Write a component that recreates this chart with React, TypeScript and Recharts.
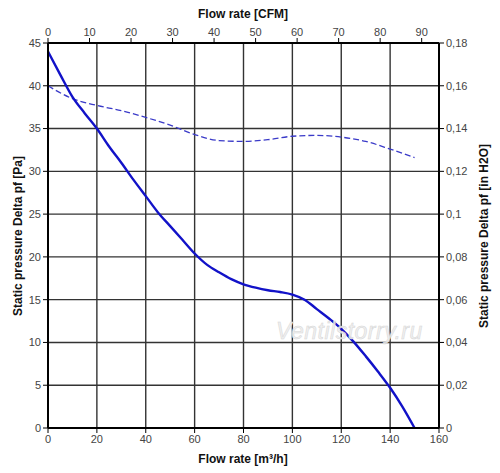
import React from 'react';
import { LineChart, Line, XAxis, YAxis, CartesianGrid } from 'recharts';

// flow rate in m³/h and static pressure in Pa
const pressureFlow = [0, 5, 10, 15, 20, 25, 30, 35, 40, 45, 50, 55, 60, 65, 70, 75, 80, 85, 90, 95, 100, 105, 110, 115, 120, 125, 130, 135, 140, 145, 150];
const pressureValues = [44, 41.3, 38.7, 36.8, 35, 32.9, 31, 29, 27.1, 25.2, 23.6, 22, 20.4, 19.1, 18.2, 17.4, 16.8, 16.4, 16.1, 15.9, 15.6, 15, 13.9, 12.8, 11.6, 10.1, 8.4, 6.6, 4.7, 2.5, 0];

const dashedFlow = [0, 10, 20, 30, 40, 50, 60, 70, 80, 90, 100, 110, 120, 130, 140, 150];
const dashedValues = [40, 38.5, 37.7, 37.1, 36.3, 35.4, 34.3, 33.6, 33.5, 33.7, 34.1, 34.2, 34.0, 33.5, 32.6, 31.6];

const m3Ticks = [0, 20, 40, 60, 80, 100, 120, 140, 160];
const cfmTicks = [0, 10, 20, 30, 40, 50, 60, 70, 80, 90];
const paTicks = [0, 5, 10, 15, 20, 25, 30, 35, 40, 45];
const inchTicks = [0, 0.02, 0.04, 0.06, 0.08, 0.1, 0.12, 0.14, 0.16, 0.18];

const M3_PER_CFM = 1.699;
const PA_PER_INCH = 249.09;

const solidData = pressureFlow.map((f, i) => ({ flow: f, pa: pressureValues[i] }));
const dashedData = dashedFlow.map((f, i) => ({ flow: f, pa: dashedValues[i] }));
// same curve in imperial units, only used so the top / right axes get data
const imperialData = pressureFlow.map((f, i) => ({ cfm: f / M3_PER_CFM, inch: pressureValues[i] / PA_PER_INCH }));

const font = 'Arial, "Liberation Sans", sans-serif';
const tickStyle = { fontSize: 11, fill: '#444', fontFamily: font };
const titleStyle: React.CSSProperties = { fontSize: 12, fontWeight: 'bold', fill: '#111', fontFamily: font };

const App: React.FC = () => {
  return (
    <div style={{ position: 'absolute', left: 0, top: 0, background: '#fff' }}>
      <LineChart width={500} height={473} margin={{ top: 0, right: 0, bottom: 0, left: 0 }}>
        <CartesianGrid xAxisId="m3" yAxisId="pa" stroke="#333" strokeWidth={1.4} />
        <XAxis
          xAxisId="m3"
          dataKey="flow"
          type="number"
          domain={[0, 160]}
          ticks={m3Ticks}
          height={45}
          tick={tickStyle}
          tickSize={5}
          tickLine={{ stroke: '#000' }}
          axisLine={{ stroke: '#000', strokeWidth: 2 }}
          label={{
            content: () => (
              <text x={243} y={463} textAnchor="middle" style={titleStyle}>Flow rate [m³/h]</text>
            ),
          }}
        />
        <XAxis
          xAxisId="cfm"
          dataKey="cfm"
          orientation="top"
          type="number"
          domain={[0, 160 / M3_PER_CFM]}
          ticks={cfmTicks}
          allowDataOverflow
          height={43}
          tick={tickStyle}
          tickSize={5}
          tickLine={{ stroke: '#000' }}
          axisLine={{ stroke: '#000', strokeWidth: 2 }}
          label={{
            content: () => (
              <text x={243} y={18} textAnchor="middle" style={titleStyle}>Flow rate [CFM]</text>
            ),
          }}
        />
        <YAxis
          yAxisId="pa"
          type="number"
          domain={[0, 45]}
          ticks={paTicks}
          width={48}
          tick={tickStyle}
          tickSize={5}
          tickLine={{ stroke: '#000' }}
          axisLine={{ stroke: '#000', strokeWidth: 2 }}
          label={{
            content: () => (
              <text x={22} y={236} textAnchor="middle" transform="rotate(-90 22 236)" style={titleStyle}>
                Static pressure Delta pf [Pa]
              </text>
            ),
          }}
        />
        <YAxis
          yAxisId="inch"
          orientation="right"
          type="number"
          domain={[0, 0.18]}
          ticks={inchTicks}
          allowDataOverflow
          width={61}
          tick={tickStyle}
          tickSize={5}
          tickLine={{ stroke: '#000' }}
          axisLine={{ stroke: '#000', strokeWidth: 2 }}
          tickFormatter={(v: number) => String(v).replace('.', ',')}
          label={{
            content: () => (
              <text x={488} y={236} textAnchor="middle" transform="rotate(-90 488 236)" style={titleStyle}>
                Static pressure Delta pf [in H2O]
              </text>
            ),
          }}
        />
        <Line
          xAxisId="cfm"
          yAxisId="inch"
          data={imperialData}
          dataKey="inch"
          type="monotone"
          stroke="none"
          dot={false}
          activeDot={false}
          isAnimationActive={false}
        />
        <Line
          xAxisId="m3"
          yAxisId="pa"
          data={dashedData}
          dataKey="pa"
          type="monotone"
          stroke="#3a3ac8"
          strokeWidth={1.3}
          strokeDasharray="6 3"
          dot={false}
          isAnimationActive={false}
        />
        <Line
          xAxisId="m3"
          yAxisId="pa"
          data={solidData}
          dataKey="pa"
          type="monotone"
          stroke="#1212c8"
          strokeWidth={2.4}
          dot={false}
          isAnimationActive={false}
        />
      </LineChart>
      <div
        style={{
          position: 'absolute',
          left: 276,
          top: 318,
          fontFamily: font,
          fontStyle: 'italic',
          fontSize: 23,
          color: 'rgba(238,238,238,0.9)',
          WebkitTextStroke: '0.5px #d6d6d6',
          pointerEvents: 'none',
          letterSpacing: 0.5,
        }}
      >
        Ventilstorry.ru
      </div>
    </div>
  );
};

export default App;
